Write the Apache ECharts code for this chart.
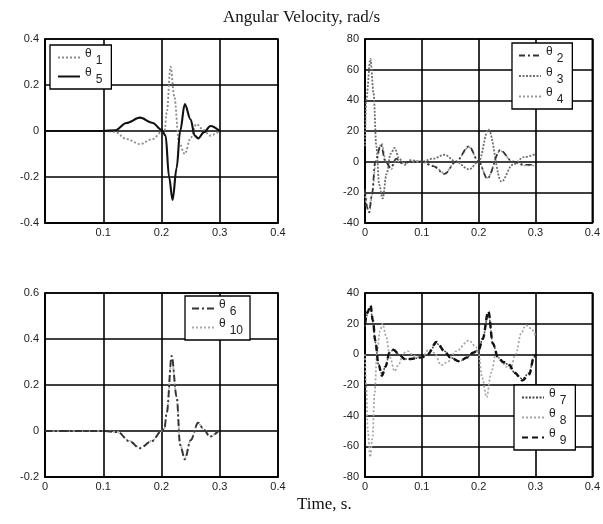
<!DOCTYPE html>
<html>
<head>
<meta charset="utf-8">
<script src="https://cdn.jsdelivr.net/npm/echarts@6/dist/echarts.min.js"></script>
<style>html,body{margin:0;padding:0;background:#fff}#c{width:603px;height:524px}</style>
</head>
<body>
<div id="c"></div>
<script>
// ---- data (time in s, angular velocity in rad/s) ----
const theta1 = [[0,0],[0.1,0],[0.12,-0.004],[0.14,-0.035],[0.163,-0.057],[0.185,-0.035],[0.2,-0.005],[0.205,-0.005],[0.209,0.08],[0.2155,0.28],[0.222,0.15],[0.23,-0.05],[0.24,-0.1],[0.25,-0.03],[0.26,0.03],[0.272,0.005],[0.283,-0.02],[0.3,0]];
const theta5 = [[0,0],[0.1,0],[0.12,0.003],[0.14,0.035],[0.163,0.058],[0.185,0.035],[0.2,0.005],[0.207,-0.02],[0.213,-0.2],[0.219,-0.3],[0.226,-0.16],[0.232,0.0],[0.24,0.117],[0.25,0.05],[0.257,-0.02],[0.263,-0.032],[0.273,-0.005],[0.284,0.022],[0.3,0]];

const theta2 = [[0,-18],[0.004,-30],[0.007,-33],[0.012,-22],[0.018,0],[0.028,11],[0.036,0],[0.045,-4],[0.055,2],[0.065,-1],[0.08,0],[0.1,0],[0.12,-3],[0.14,-8],[0.16,0],[0.183,10],[0.2,0],[0.215,-11],[0.238,7.5],[0.26,0],[0.28,-2],[0.3,-2]];
const theta3 = [[0,10],[0.002,40],[0.0096,67],[0.015,45],[0.02,10],[0.025,-15],[0.031,-24],[0.038,-8],[0.045,5],[0.052,9],[0.06,2],[0.07,-2],[0.08,1],[0.1,0],[0.12,2],[0.14,4.5],[0.16,0],[0.183,-5],[0.2,0],[0.217,21],[0.24,-13],[0.26,-2],[0.28,3],[0.3,5]];
const theta4 = [[0,-20],[0.004,-31],[0.008,-33],[0.013,-20],[0.019,0],[0.029,12],[0.037,0],[0.046,-5],[0.055,1],[0.065,-1],[0.08,0],[0.1,0],[0.12,-2.5],[0.14,-7.5],[0.16,0],[0.183,9.5],[0.2,0],[0.215,-10.5],[0.238,7],[0.26,0],[0.28,-2.5],[0.3,-2.5]];

const theta6 = [[0,0],[0.1,0],[0.125,-0.005],[0.145,-0.045],[0.163,-0.075],[0.183,-0.045],[0.2,0.0],[0.205,0.01],[0.209,0.08],[0.2175,0.326],[0.226,0.15],[0.232,-0.06],[0.24,-0.123],[0.25,-0.04],[0.263,0.036],[0.273,0.005],[0.283,-0.025],[0.2975,0]];
const theta10 = [[0,0],[0.1,0],[0.125,-0.004],[0.145,-0.043],[0.163,-0.072],[0.183,-0.043],[0.2,0.0],[0.205,0.01],[0.209,0.08],[0.2175,0.315],[0.226,0.15],[0.232,-0.06],[0.24,-0.118],[0.25,-0.04],[0.263,0.034],[0.273,0.005],[0.283,-0.023],[0.2975,0]];

const theta7 = [[0,18],[0.005,27],[0.0096,31],[0.014,21],[0.018,8],[0.024,-7],[0.03,-13],[0.036,-8],[0.043,1],[0.05,3],[0.06,0],[0.07,-3],[0.08,-3],[0.1,-2],[0.11,0],[0.126,7],[0.14,2],[0.15,-2],[0.166,-4.5],[0.18,-2],[0.19,1],[0.2,3],[0.207,10],[0.217,27],[0.225,7],[0.234,-2],[0.243,-5],[0.254,-7],[0.263,-12],[0.277,-16],[0.289,-12],[0.297,-2],[0.3,0]];
const theta8 = [[0,0],[0.002,-20],[0.005,-50],[0.009,-67],[0.013,-55],[0.017,-25],[0.021,0],[0.026,15],[0.031,20],[0.037,12],[0.044,-2],[0.052,-11],[0.06,-6],[0.068,1],[0.076,2],[0.085,-1],[0.1,-2],[0.112,3],[0.122,1],[0.134,-7],[0.145,-5],[0.16,2],[0.183,9],[0.195,5],[0.2,0],[0.206,-15],[0.214,-28],[0.222,-12],[0.23,0],[0.238,-3],[0.248,-8],[0.256,-9],[0.265,0],[0.275,14],[0.283,19],[0.292,17],[0.3,12]];
const theta9 = [[0,20],[0.005,28],[0.0096,32],[0.014,22],[0.018,9],[0.024,-7],[0.03,-14],[0.036,-8],[0.043,1],[0.05,3],[0.06,0],[0.07,-3],[0.08,-3],[0.1,-2],[0.11,0],[0.126,8],[0.14,2],[0.15,-2],[0.166,-4.6],[0.18,-2],[0.19,1],[0.2,3],[0.207,10],[0.217,28],[0.225,7],[0.234,-2],[0.243,-5],[0.254,-7],[0.263,-12],[0.277,-17],[0.289,-13],[0.297,-2],[0.3,0]];

const xRange = [0, 0.4, 0.1];
const yRanges = [[-0.4, 0.4, 0.2], [-40, 80, 20], [-0.2, 0.6, 0.2], [-80, 40, 20]];
const titleText = 'Angular Velocity, rad/s';
const xTitleText = 'Time, s.';

// ---- layout ----
const grids = [
  {left: 45, top: 39, width: 233, height: 184},
  {left: 365, top: 39, width: 233, height: 184},
  {left: 45, top: 293, width: 233, height: 184},
  {left: 365, top: 293, width: 233, height: 184}
];
const labelFont = {fontFamily: 'Liberation Sans, Arial, sans-serif', fontSize: 11, color: '#222'};

const gridOpts = grids.map(g => Object.assign({show: true, borderColor: '#000', borderWidth: 1.6, backgroundColor: '#fff'}, g));
const xAxes = grids.map((g, i) => ({
  type: 'value', gridIndex: i, min: xRange[0], max: xRange[1], interval: xRange[2],
  axisLine: {show: true, onZero: false, lineStyle: {color: '#000', width: 1.6}},
  axisTick: {show: false},
  splitLine: {show: true, lineStyle: {color: '#000', width: 1.6}},
  axisLabel: Object.assign({margin: 4, showMinLabel: i !== 0, showMaxLabel: true,
    formatter: v => String(Math.round(v * 10) / 10)}, labelFont)
}));
const yAxes = grids.map((g, i) => ({
  type: 'value', gridIndex: i, min: yRanges[i][0], max: yRanges[i][1], interval: yRanges[i][2],
  axisLine: {show: true, onZero: false, lineStyle: {color: '#000', width: 1.6}},
  axisTick: {show: false},
  splitLine: {show: true, lineStyle: {color: '#000', width: 1.6}},
  axisLabel: Object.assign({margin: 6, showMinLabel: true, showMaxLabel: true,
    formatter: v => String(Math.round(v * 10) / 10)}, labelFont)
}));

function mk(name, data, idx, color, type, width, z) {
  return {
    name, type: 'line', data, xAxisIndex: idx, yAxisIndex: idx,
    symbol: 'none', smooth: 0.35, smoothMonotone: 'x', z: z || 2,
    lineStyle: {color, type, width: width || 1.5}, itemStyle: {color},
    animation: false
  };
}
const series = [
  mk('θ1', theta1, 0, '#8a8a8a', [2, 2], 1.8),
  mk('θ5', theta5, 0, '#111', 'solid', 2.1, 3),
  mk('θ2', theta2, 1, '#333', [6, 3, 2, 3], 1.7, 3),
  mk('θ3', theta3, 1, '#707070', [2, 1.5], 1.8),
  mk('θ4', theta4, 1, '#9a9a9a', [2, 2], 1.7),
  mk('θ6', theta6, 2, '#333', [7, 3, 2, 3], 1.9, 3),
  mk('θ10', theta10, 2, '#aaa', [2, 2], 1.7),
  mk('θ7', theta7, 3, '#444', [2, 1.5], 1.5),
  mk('θ8', theta8, 3, '#a5a5a5', [2, 2], 1.7),
  mk('θ9', theta9, 3, '#111', [6, 4], 2.4, 3)
];

const rich = {
  a: {fontFamily: 'Liberation Sans, Arial, sans-serif', fontSize: 12, color: '#222', lineHeight: 12, padding: [0, 0, 7, 0]},
  b: {fontFamily: 'Liberation Sans, Arial, sans-serif', fontSize: 12, color: '#222', lineHeight: 12, padding: [7, 0, 0, 4]}
};
function lg(names, left, top, pad, gap) {
  return {
    data: names, left, top, orient: 'vertical', itemWidth: 22, itemHeight: 10, itemGap: gap || 0,
    padding: pad, backgroundColor: '#fff', borderColor: '#000', borderWidth: 1.3, borderRadius: 0,
    selectedMode: false, itemStyle: {opacity: 0},
    formatter: n => '{a|θ}{b|' + n.slice(1) + '}',
    textStyle: {rich}
  };
}

const option = {
  animation: false,
  backgroundColor: '#fff',
  grid: gridOpts,
  xAxis: xAxes,
  yAxis: yAxes,
  legend: [
    lg(['θ1', 'θ5'], 50, 45, [3, 9, 3, 7]),
    lg(['θ2', 'θ3', 'θ4'], 512, 43, [3, 9, 3, 6], 1.5),
    lg(['θ6', 'θ10'], 185, 296, [3, 7, 3, 6]),
    lg(['θ7', 'θ8', 'θ9'], 514, 385, [3, 9, 3, 7], 1)
  ],
  graphic: [
    {type: 'text', left: 'center', top: 9, style: {text: titleText, font: '17px "Liberation Serif", "Times New Roman", serif', fill: '#111'}},
    {type: 'text', left: 297, top: 496, style: {text: xTitleText, font: '17px "Liberation Serif", "Times New Roman", serif', fill: '#111'}}
  ],
  series
};
const chart = echarts.init(document.getElementById('c'), null, {renderer: 'canvas'});
chart.setOption(option);
</script>
</body>
</html>
